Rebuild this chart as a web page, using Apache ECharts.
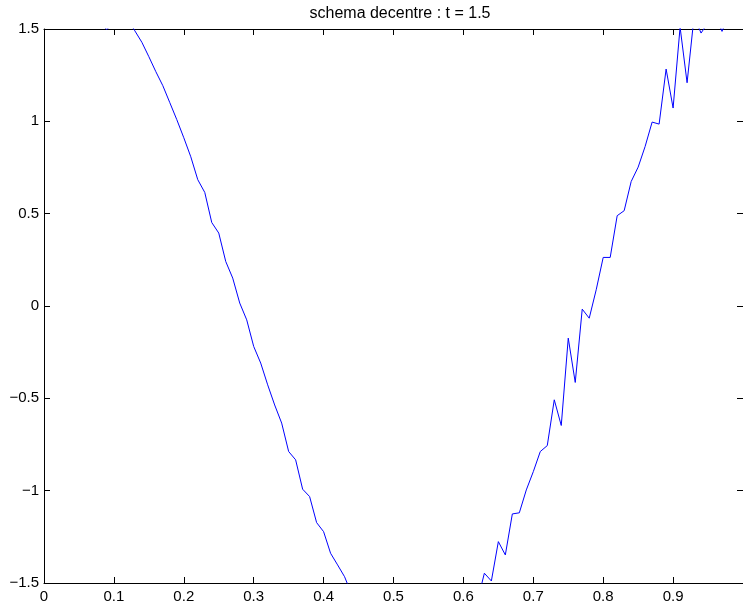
<!DOCTYPE html>
<html>
<head>
<meta charset="utf-8">
<title>schema decentre</title>
<script src="https://cdn.jsdelivr.net/npm/echarts@6/dist/echarts.min.js"></script>
<style>
  html, body { margin: 0; padding: 0; background: #fff; }
  #chart { width: 743px; height: 607px; }
</style>
</head>
<body>
<div id="chart"></div>
<script>
  // branche descendante (valeurs au-dessus de 1.5 / sous -1.5 coupees par l'axe)
  var descenteX = [0.08, 0.09, 0.10, 0.11, 0.12, 0.13, 0.14, 0.15, 0.16, 0.17,
                   0.18, 0.19, 0.20, 0.21, 0.22, 0.23, 0.24, 0.25, 0.26, 0.27,
                   0.28, 0.29, 0.30, 0.31, 0.32, 0.33, 0.34, 0.35, 0.36, 0.37,
                   0.38, 0.39, 0.40, 0.41, 0.42, 0.43, 0.44];
  var descenteY = [1.53, 1.497, 1.54, 1.57, 1.55, 1.49, 1.428, 1.35, 1.269, 1.193,
                   1.101, 1.009, 0.911, 0.808, 0.684, 0.615, 0.452, 0.395, 0.241, 0.151,
                   0.016, -0.075, -0.219, -0.309, -0.427, -0.536, -0.634, -0.788, -0.833, -0.992,
                   -1.032, -1.173, -1.222, -1.339, -1.402, -1.466, -1.56];

  // branche montante, avec les oscillations
  var remonteX = [0.62, 0.63, 0.64, 0.65, 0.66, 0.67, 0.68, 0.69, 0.70, 0.71,
                  0.72, 0.73, 0.74, 0.75, 0.76, 0.77, 0.78, 0.79, 0.80, 0.81,
                  0.82, 0.83, 0.84, 0.85, 0.86, 0.87, 0.88, 0.89, 0.90, 0.91,
                  0.92, 0.93, 0.94, 0.95, 0.96, 0.97, 0.98, 0.99];
  var remonteY = [-1.6, -1.447, -1.489, -1.276, -1.348, -1.126, -1.12, -0.996, -0.897, -0.788,
                  -0.756, -0.508, -0.647, -0.174, -0.414, -0.017, -0.066, 0.088, 0.263, 0.263,
                  0.489, 0.516, 0.674, 0.752, 0.864, 0.996, 0.985, 1.283, 1.072, 1.51,
                  1.209, 1.567, 1.478, 1.535, 1.579, 1.487, 1.578, 1.6];

  var xTicks = {min: 0, max: 1, interval: 0.1};
  var yTicks = {min: -1.5, max: 1.5, interval: 0.5};

  function pairs(xs, ys) {
    var out = [];
    for (var i = 0; i < xs.length; i++) out.push([xs[i], ys[i]]);
    return out;
  }

  var police = 'Liberation Sans, Arial, Helvetica, sans-serif';
  var axeLigne = {show: true, onZero: false, lineStyle: {color: '#000', width: 1}};
  var axeTick = {show: true, inside: true, length: 6, lineStyle: {color: '#000', width: 1}};

  var chart = echarts.init(document.getElementById('chart'));
  chart.setOption({
    animation: false,
    backgroundColor: '#fff',
    title: {
      text: 'schema decentre : t = 1.5',
      left: 395,
      textAlign: 'center',
      top: 1,
      textStyle: {fontFamily: police, fontSize: 16, fontWeight: 'normal', color: '#000'}
    },
    grid: {left: 44, right: -3, top: 29, bottom: 24, containLabel: false},
    xAxis: [{
      type: 'value',
      position: 'bottom',
      min: xTicks.min, max: xTicks.max, interval: xTicks.interval,
      axisLine: axeLigne,
      axisTick: axeTick,
      splitLine: {show: false},
      axisLabel: {
        margin: 6, color: '#000', fontFamily: police, fontSize: 15,
        showMaxLabel: false,
        formatter: function (v) { return String(Math.round(v * 10) / 10); }
      }
    }, {
      type: 'value',
      position: 'top',
      min: xTicks.min, max: xTicks.max, interval: xTicks.interval,
      axisLine: axeLigne,
      axisTick: axeTick,
      splitLine: {show: false},
      axisLabel: {show: false}
    }],
    yAxis: [{
      type: 'value',
      position: 'left',
      min: yTicks.min, max: yTicks.max, interval: yTicks.interval,
      axisLine: axeLigne,
      axisTick: axeTick,
      splitLine: {show: false},
      axisLabel: {
        margin: 5, color: '#000', fontFamily: police, fontSize: 15,
        formatter: function (v) { return String(v).replace('-', '\u2212'); }
      }
    }, {
      type: 'value',
      position: 'right',
      min: yTicks.min, max: yTicks.max, interval: yTicks.interval,
      axisLine: axeLigne,
      axisTick: axeTick,
      splitLine: {show: false},
      axisLabel: {show: false}
    }],
    series: [{
      name: 'descente',
      type: 'line',
      data: pairs(descenteX, descenteY),
      showSymbol: false,
      clip: true,
      lineStyle: {color: '#0000ff', width: 1},
      itemStyle: {color: '#0000ff'}
    }, {
      name: 'remonte',
      type: 'line',
      data: pairs(remonteX, remonteY),
      showSymbol: false,
      clip: true,
      lineStyle: {color: '#0000ff', width: 1},
      itemStyle: {color: '#0000ff'}
    }]
  });
</script>
</body>
</html>
